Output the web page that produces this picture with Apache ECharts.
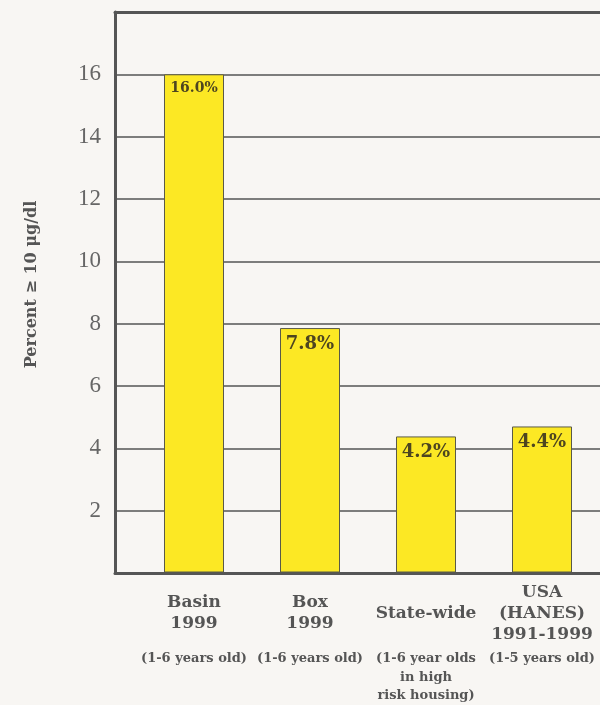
<!DOCTYPE html>
<html>
<head>
<meta charset="utf-8">
<script src="https://cdn.jsdelivr.net/npm/echarts@6/dist/echarts.min.js"></script>
<style>
  html, body { margin: 0; padding: 0; background: #f8f6f3; }
  #chart { width: 600px; height: 705px; }
</style>
</head>
<body>
<div id="chart"></div>
<script>
// 数据
const categories = ['Basin\n1999', 'Box\n1999', 'State-wide', 'USA\n(HANES)\n1991-1999']
const subLabels = ['(1-6 years old)', '(1-6 years old)', '(1-6 year olds\nin high\nrisk housing)', '(1-5 years old)']
const barValues = [16.0, 7.85, 4.37, 4.69]   // bar heights as drawn
const barLabels = ['16.0%', '7.8%', '4.2%', '4.4%']

const chart = echarts.init(document.getElementById('chart'))

const serifBold = 'DejaVu Serif'
const frameLine = { show: true, lineStyle: { color: '#555', width: 3 } }

// 外框只画左、下、上三边（右边被裁掉）
const frameAxis = (position) => ({
  gridIndex: 0, type: 'value', min: 0, max: 1, position,
  axisLine: frameLine, axisTick: { show: false },
  axisLabel: { show: false }, splitLine: { show: false }
})

const option = {
  backgroundColor: '#f8f6f3',
  animation: false,
  grid: [
    // 外框 + y轴
    { left: 115, top: 12, right: 0, bottom: 132 },
    // 柱子
    { left: 136, top: 12, width: 467, bottom: 132 }
  ],
  xAxis: [
    frameAxis('bottom'),
    {
      gridIndex: 1, type: 'category', data: categories,
      axisLine: { show: false }, axisTick: { show: false },
      axisLabel: {
        fontFamily: serifBold, fontWeight: 'bold', fontSize: 17, color: '#555',
        lineHeight: 21, verticalAlign: 'middle', margin: 41, interval: 0
      }
    },
    {
      gridIndex: 1, type: 'category', data: subLabels, position: 'bottom',
      axisLine: { show: false }, axisTick: { show: false },
      axisLabel: {
        fontFamily: serifBold, fontWeight: 'bold', fontSize: 13, color: '#555',
        lineHeight: 18.5, verticalAlign: 'top', margin: 77, interval: 0
      }
    },
    frameAxis('top')
  ],
  yAxis: [
    {
      gridIndex: 0, type: 'value', min: 0, max: 18, interval: 2,
      name: 'Percent ≥ 10 μg/dl', nameLocation: 'middle', nameGap: 75,
      nameTextStyle: { fontFamily: serifBold, fontWeight: 'bold', fontSize: 16, color: '#555', padding: [0, 0, 0, 16] },
      axisLine: frameLine, axisTick: { show: false },
      axisLabel: {
        fontFamily: 'Liberation Serif', fontSize: 23, color: '#666', margin: 14,
        showMinLabel: false, showMaxLabel: false
      },
      splitLine: { lineStyle: { color: '#555', width: 1.5 } }
    },
    { gridIndex: 1, type: 'value', min: 0, max: 18, show: false }
  ],
  series: [
    {
      type: 'bar',
      xAxisIndex: 1,
      yAxisIndex: 1,
      barWidth: 60,
      itemStyle: { color: '#fce824', borderColor: '#5a5a48', borderWidth: 1 },
      label: {
        show: true, position: 'insideTop', distance: 7,
        fontFamily: serifBold, fontWeight: 'bold', fontSize: 18, color: '#4d4520'
      },
      data: barValues.map((v, i) => ({
        value: v,
        label: { formatter: barLabels[i], fontSize: i === 0 ? 14 : 18 }
      }))
    }
  ]
}

chart.setOption(option)
</script>
</body>
</html>
